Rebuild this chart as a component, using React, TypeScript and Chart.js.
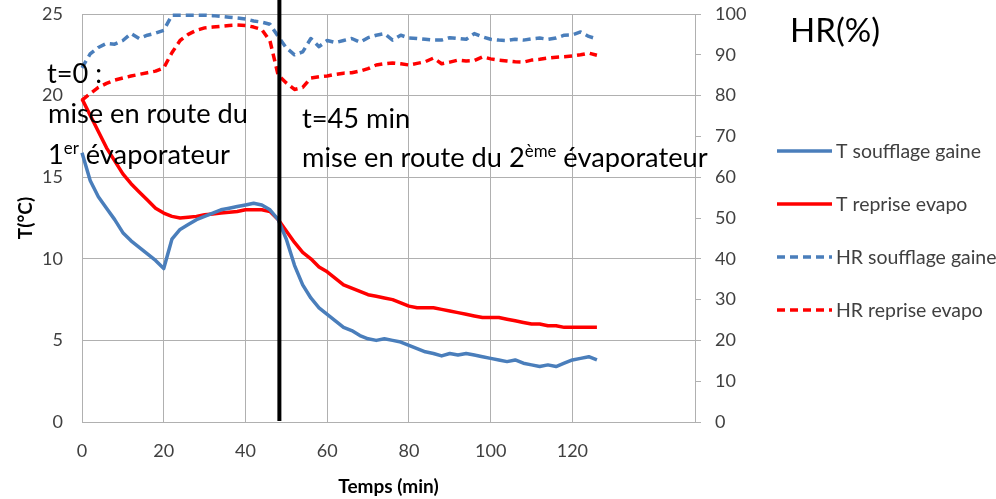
import { useEffect, useRef } from "react";
import { Chart, registerables } from "chart.js";

Chart.register(...registerables);

// Time since start-up of the first evaporator (minutes)
const TIME_MIN = [
  0, 2, 4, 6, 8, 10, 12, 14, 16, 18,
  20, 22, 24, 26, 28, 30, 32, 34, 36, 38,
  40, 42, 44, 46, 48, 50, 52, 54, 56, 58,
  60, 62, 64, 66, 68, 70, 72, 74, 76, 78,
  80, 82, 84, 86, 88, 90, 92, 94, 96, 98,
  100, 102, 104, 106, 108, 110, 112, 114, 116, 118,
  120, 122, 124, 126,
];

// Temperatures (°C) - left axis
const T_SOUFFLAGE = [
  16.5, 14.8, 13.8, 13.1, 12.4, 11.6, 11.1, 10.7, 10.3, 9.9,
  9.4, 11.2, 11.8, 12.1, 12.4, 12.6, 12.8, 13.0, 13.1, 13.2,
  13.3, 13.4, 13.3, 13.0, 12.4, 11.2, 9.6, 8.4, 7.6, 7.0,
  6.6, 6.2, 5.8, 5.6, 5.3, 5.1, 5.0, 5.1, 5.0, 4.9,
  4.7, 4.5, 4.3, 4.2, 4.05, 4.2, 4.1, 4.2, 4.1, 4.0,
  3.9, 3.8, 3.7, 3.8, 3.6, 3.5, 3.4, 3.5, 3.4, 3.6,
  3.8, 3.9, 4.0, 3.8,
];
const T_REPRISE = [
  19.8, 18.8, 17.8, 16.8, 16.0, 15.2, 14.6, 14.1, 13.6, 13.1,
  12.8, 12.6, 12.5, 12.55, 12.6, 12.7, 12.75, 12.8, 12.85, 12.9,
  13.0, 13.0, 13.0, 12.9, 12.4, 11.7, 11.0, 10.4, 10.0, 9.5,
  9.2, 8.8, 8.4, 8.2, 8.0, 7.8, 7.7, 7.6, 7.5, 7.3,
  7.1, 7.0, 7.0, 7.0, 6.9, 6.8, 6.7, 6.6, 6.5, 6.4,
  6.4, 6.4, 6.3, 6.2, 6.1, 6.0, 6.0, 5.9, 5.9, 5.8,
  5.8, 5.8, 5.8, 5.8,
];

// Relative humidity (%) - right axis
const HR_SOUFFLAGE = [
  86.8, 90.2, 91.8, 92.8, 92.6, 93.5, 95.2, 94.0, 94.8, 95.3,
  96.0, 99.7, 99.7, 99.7, 99.7, 99.7, 99.6, 99.4, 99.2, 99.0,
  98.8, 98.3, 98.0, 97.5, 94.5, 91.7, 90.0, 90.7, 94.0, 92.0,
  93.5, 93.0, 93.5, 94.0, 93.1, 94.2, 94.8, 95.2, 93.6, 94.8,
  94.1, 94.0, 93.8, 93.6, 93.6, 94.2, 94.0, 93.8, 95.2, 94.4,
  93.8, 93.6, 93.5, 93.8, 93.6, 93.9, 94.1, 93.8, 94.1, 94.8,
  94.9, 95.6, 94.5, 93.9,
];
const HR_REPRISE = [
  78.9, 80.5, 82.0, 83.0, 83.8, 84.3, 84.8, 85.2, 85.6, 86.0,
  86.8, 90.5, 93.5, 95.0, 96.0, 96.6, 96.8, 97.0, 97.2, 97.3,
  97.2, 96.8, 96.2, 93.4, 85.0, 83.1, 81.5, 82.0, 84.3, 84.6,
  84.8, 85.2, 85.5, 85.6, 86.0, 86.6, 87.5, 87.8, 88.0, 87.8,
  87.5, 87.9, 88.3, 89.2, 87.8, 88.2, 88.7, 88.5, 88.6, 89.5,
  89.0, 88.7, 88.5, 88.3, 88.2, 88.7, 88.9, 89.2, 89.4, 89.5,
  89.7, 90.0, 90.4, 89.9,
];

const SERIES_LABELS = ["T soufflage gaine", "T reprise evapo", "HR soufflage gaine", "HR reprise evapo"];
const X_MAX_TICK = 140;
const SECOND_EVAPORATOR_START = 48.3; // minutes

const FONT = "Lato, 'Open Sans', sans-serif";
const BLUE = "#4A7EBB";
const RED = "#FF0000";
const GRID = "#b0b0b0";
const TICK_COLOR = "#404040";

const toPoints = (ys: number[]) => TIME_MIN.map((t, i) => ({ x: t, y: ys[i] }));

function fitSize(ctx: CanvasRenderingContext2D, text: string, width: number, weight = "normal") {
  ctx.font = `${weight} 100px ${FONT}`;
  return (100 * width) / ctx.measureText(text).width;
}

// Draws text segments in a row; segments flagged sup are drawn as superscripts.
function drawRich(
  ctx: CanvasRenderingContext2D,
  parts: { text: string; sup?: boolean }[],
  x: number,
  y: number,
  size: number
) {
  let cx = x;
  for (const p of parts) {
    const s = p.sup ? size * 0.62 : size;
    ctx.font = `${s}px ${FONT}`;
    ctx.fillText(p.text, cx, p.sup ? y - size * 0.38 : y);
    cx += ctx.measureText(p.text).width;
  }
}

// Keep the plot area fixed: ignore the extra room Chart.js reserves for edge labels.
const noEdgePadding = (s: any) => {
  s.paddingTop = 0;
  s.paddingBottom = 0;
  s.paddingLeft = 0;
  s.paddingRight = 0;
};

const overlayPlugin = {
  id: "overlay",
  afterDatasetsDraw(chart: any) {
    const { ctx, scales, chartArea } = chart;
    const px = scales.x.getPixelForValue(SECOND_EVAPORATOR_START);
    ctx.save();
    ctx.strokeStyle = "#000";
    ctx.lineWidth = 4;
    ctx.beginPath();
    ctx.moveTo(px, 0);
    ctx.lineTo(px, chartArea.bottom - 1);
    ctx.stroke();
    ctx.restore();
  },
  afterDraw(chart: any) {
    const ctx: CanvasRenderingContext2D = chart.ctx;
    ctx.save();
    ctx.textBaseline = "alphabetic";
    ctx.textAlign = "left";

    // annotations
    ctx.fillStyle = "#000";
    const a = fitSize(ctx, "mise en route du", 200);
    drawRich(ctx, [{ text: "t=0 :" }], 47, 83, a);
    drawRich(ctx, [{ text: "mise en route du" }], 48, 123, a);
    drawRich(ctx, [{ text: "1" }, { text: "er", sup: true }, { text: " évaporateur" }], 48, 164, a);
    drawRich(ctx, [{ text: "t=45 min" }], 302, 128, a);
    drawRich(
      ctx,
      [{ text: "mise en route du 2" }, { text: "ème", sup: true }, { text: " évaporateur" }],
      302,
      167,
      a
    );

    // right axis heading
    const h = fitSize(ctx, "HR(%)", 90);
    ctx.font = `${h}px ${FONT}`;
    ctx.fillText("HR(%)", 790, 42);

    // legend
    const l = fitSize(ctx, SERIES_LABELS[0], 145);
    chart.data.datasets.forEach((ds: any, i: number) => {
      const ly = 151 + 53 * i;
      ctx.strokeStyle = ds.borderColor;
      ctx.lineWidth = ds.borderWidth;
      ctx.setLineDash(ds.borderDash || []);
      ctx.beginPath();
      ctx.moveTo(777, ly);
      ctx.lineTo(832, ly);
      ctx.stroke();
      ctx.setLineDash([]);
      ctx.fillStyle = TICK_COLOR;
      ctx.font = `${l}px ${FONT}`;
      ctx.textBaseline = "middle";
      ctx.fillText(ds.label, 836, ly + 1);
      ctx.textBaseline = "alphabetic";
    });
    ctx.restore();
  },
};

export default function App() {
  const ref = useRef<HTMLCanvasElement>(null);

  useEffect(() => {
    const canvas = ref.current!;
    const line = (label: string, ys: number[], color: string, axis: string, dashed: boolean) => ({
      label,
      data: toPoints(ys),
      borderColor: color,
      backgroundColor: color,
      borderWidth: 3.5,
      borderDash: dashed ? [8, 5] : [],
      pointRadius: 0,
      tension: 0,
      borderJoinStyle: "round" as const,
      yAxisID: axis,
      clip: 4,
    });

    const chart = new Chart(canvas, {
      type: "line",
      data: {
        datasets: [
          line(SERIES_LABELS[0], T_SOUFFLAGE, BLUE, "y", false),
          line(SERIES_LABELS[1], T_REPRISE, RED, "y", false),
          line(SERIES_LABELS[2], HR_SOUFFLAGE, BLUE, "y1", true),
          line(SERIES_LABELS[3], HR_REPRISE, RED, "y1", true),
        ],
      },
      options: {
        responsive: false,
        animation: false,
        events: [],
        layout: { padding: { top: 14, left: 0, right: 0, bottom: 0 } },
        plugins: { legend: { display: false }, tooltip: { enabled: false } },
        scales: {
          x: {
            type: "linear",
            min: 0,
            max: 150,
            afterBuildTicks: (s: any) => {
              s.ticks = s.ticks.filter((t: any) => t.value <= X_MAX_TICK);
            },
            afterFit: (s: any) => {
              s.height = 77;
              noEdgePadding(s);
            },
            ticks: { stepSize: 20, padding: 18, color: TICK_COLOR, font: { family: FONT, size: 18 } },
            grid: { color: GRID, drawTicks: false },
            border: { color: GRID },
            title: {
              display: true,
              text: "Temps (min)",
              color: "#000",
              font: { family: FONT, size: 19, weight: "bold" },
              padding: { top: 0, bottom: 1 },
            },
          },
          y: {
            position: "left",
            min: 0,
            max: 25,
            afterFit: (s: any) => {
              s.width = 82;
              noEdgePadding(s);
            },
            ticks: { stepSize: 5, padding: 19, color: TICK_COLOR, font: { family: FONT, size: 18 } },
            grid: { color: GRID, drawTicks: false },
            border: { color: GRID },
            title: {
              display: true,
              text: "T(°C)",
              color: "#000",
              font: { family: FONT, size: 19, weight: "bold" },
              padding: { top: 14, bottom: 0 },
            },
          },
          y1: {
            position: "right",
            min: 0,
            max: 100,
            afterFit: (s: any) => {
              s.width = 301;
              noEdgePadding(s);
            },
            ticks: { stepSize: 10, padding: 14, color: TICK_COLOR, font: { family: FONT, size: 18 } },
            grid: { drawOnChartArea: false, color: GRID, tickLength: 6 },
            border: { color: GRID },
          },
        },
      },
      plugins: [overlayPlugin],
    });
    return () => chart.destroy();
  }, []);

  return (
    <div style={{ position: "fixed", left: 0, top: 0, width: 996, height: 499, background: "#fff" }}>
      <canvas ref={ref} width={996} height={499} style={{ display: "block" }} />
    </div>
  );
}
